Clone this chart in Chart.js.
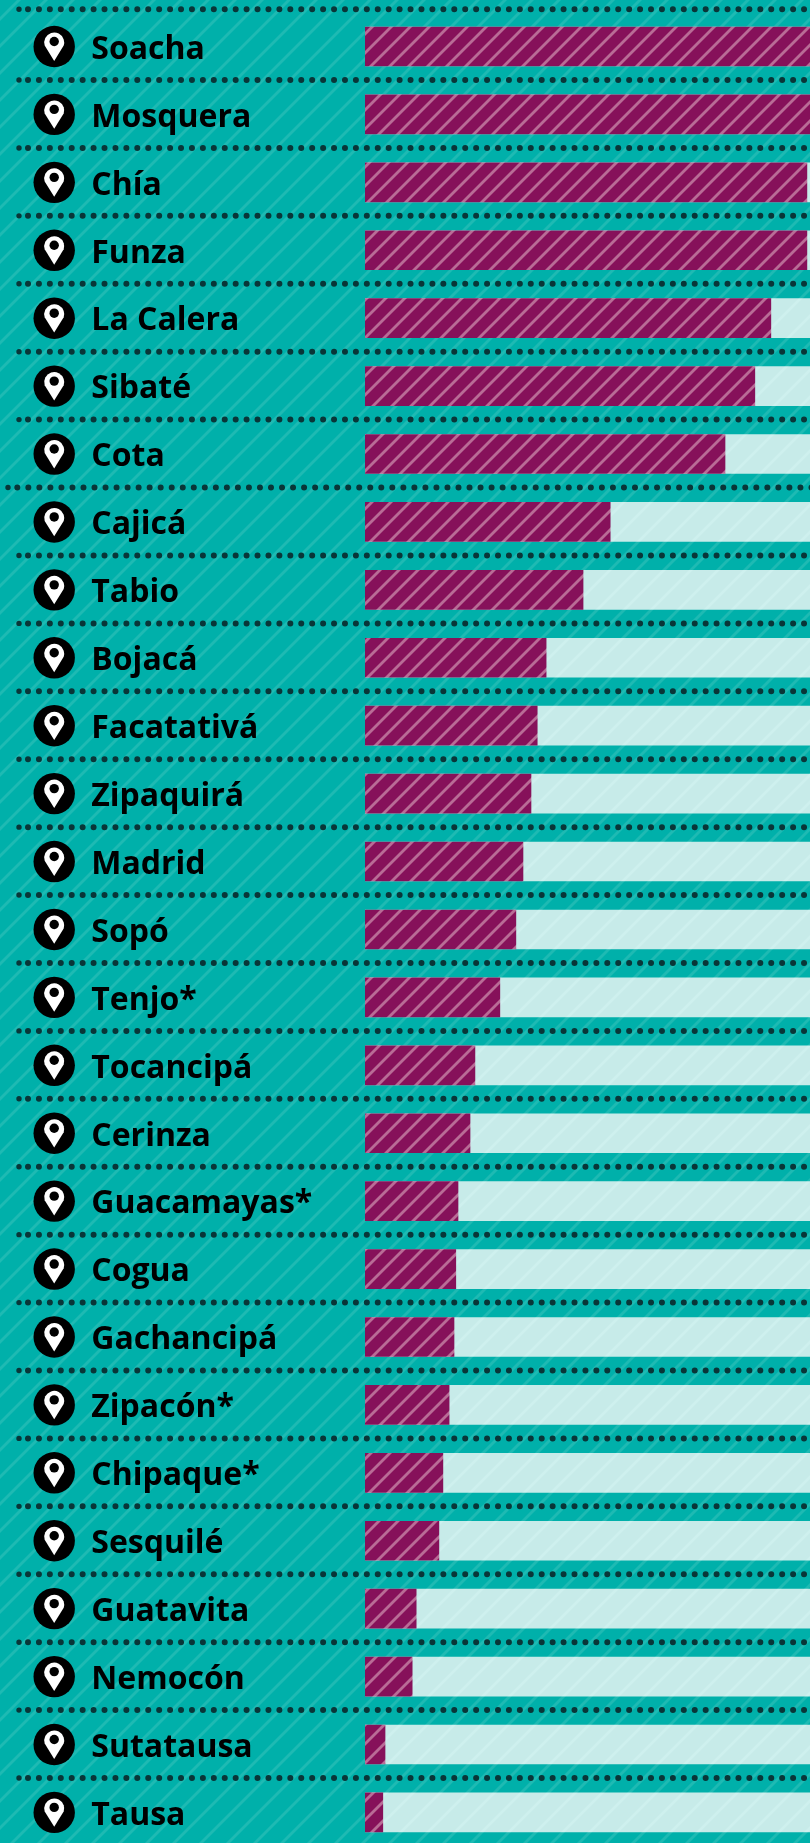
<!DOCTYPE html>
<html>
<head>
<meta charset="utf-8">
<style>
  html, body { margin: 0; padding: 0; background: #00b0aa; overflow: hidden; }
  #wrap { width: 810px; height: 1843px; overflow: hidden; }
  canvas { display: block; }
</style>
</head>
<body>
<div id="wrap"><canvas id="myChart" width="810" height="1850"></canvas></div>
<script src="https://cdn.jsdelivr.net/npm/chart.js@4"></script>
<script>
var municipios = ['Soacha', 'Mosquera', 'Chía', 'Funza', 'La Calera', 'Sibaté', 'Cota', 'Cajicá', 'Tabio',
  'Bojacá', 'Facatativá', 'Zipaquirá', 'Madrid', 'Sopó', 'Tenjo*', 'Tocancipá', 'Cerinza', 'Guacamayas*',
  'Cogua', 'Gachancipá', 'Zipacón*', 'Chipaque*', 'Sesquilé', 'Guatavita', 'Nemocón', 'Sutatausa', 'Tausa'];
var valores = [100, 100, 99.3, 99.3, 91.2, 87.6, 80.9, 55.1, 49.0, 40.7, 38.7, 37.3, 35.5, 33.9, 30.3,
  24.7, 23.6, 20.9, 20.4, 20.0, 18.9, 17.5, 16.6, 11.5, 10.6, 4.5, 4.0];
var total = [100, 100, 100, 100, 100, 100, 100, 100, 100, 100, 100, 100, 100, 100, 100, 100, 100, 100,
  100, 100, 100, 100, 100, 100, 100, 100, 100];

// 45 degree hatch tile, lines where x + y = phase (mod period)
function hatch(base, line, w, period, phase) {
  var c = document.createElement('canvas');
  c.width = period;
  c.height = period;
  var g = c.getContext('2d');
  g.fillStyle = base;
  g.fillRect(0, 0, period, period);
  g.strokeStyle = line;
  g.lineWidth = w;
  for (var k = -1; k < 3; k++) {
    var n = phase + k * period;
    g.beginPath();
    g.moveTo(n + 3, -3);
    g.lineTo(n - period - 3, period + 3);
    g.stroke();
  }
  return g.createPattern(c, 'repeat');
}

function drawPin(ctx, x, y) {
  ctx.fillStyle = '#000';
  ctx.beginPath();
  ctx.arc(x, y, 20.7, 0, Math.PI * 2);
  ctx.fill();
  ctx.fillStyle = '#fff';
  ctx.beginPath();
  ctx.arc(x, y - 4, 10, Math.PI * 0.9, Math.PI * 0.1);
  ctx.lineTo(x, y + 14.4);
  ctx.closePath();
  ctx.fill();
  ctx.fillStyle = '#000';
  ctx.beginPath();
  ctx.arc(x, y - 5, 4.7, 0, Math.PI * 2);
  ctx.fill();
}

var fondo = hatch('#00b0aa', '#1ebab3', 2.8, 27, 19);

var decoracion = {
  id: 'decoracion',
  beforeDraw: function (chart) {
    var ctx = chart.ctx;
    ctx.save();
    ctx.fillStyle = fondo;
    ctx.fillRect(0, 0, chart.width, chart.height);
    ctx.restore();
  },
  afterDraw: function (chart) {
    var ctx = chart.ctx, y = chart.scales.y;
    ctx.save();
    municipios.forEach(function (m, i) {
      var cy = y.getPixelForValue(i);
      var ly = cy - (i === 0 ? 37.2 : 34.4);
      // the line above Cajicá runs a bit further left and wider
      var first = i === 7 ? 17.3 : 28;
      var step = i === 7 ? 11.03 : 10.93;
      ctx.fillStyle = '#093638';
      ctx.beginPath();
      ctx.arc(i === 7 ? 8 : 19, ly, 2.7, 0, Math.PI * 2);
      for (var x = first; x < 815; x += step) {
        ctx.moveTo(x + 3, ly);
        ctx.arc(x, ly, 3, 0, Math.PI * 2);
      }
      ctx.fill();
      drawPin(ctx, 54.2, cy);
      // axis labels sit a little low in the original, so they are placed here
      ctx.fillStyle = '#000';
      ctx.font = 'bold 32px "Open Sans"';
      ctx.textAlign = 'left';
      ctx.textBaseline = 'alphabetic';
      ctx.fillText(m, 91.3, cy + 12.3);
    });
    ctx.restore();
  }
};

var ctx = document.getElementById('myChart').getContext('2d');
var myChart = new Chart(ctx, {
  type: 'bar',
  data: {
    labels: municipios,
    datasets: [{
      label: 'valor',
      data: valores,
      backgroundColor: hatch('#86115a', '#b96c96', 2.8, 19, 0),
      barThickness: 39,
      grouped: false,
      order: 1
    }, {
      label: 'total',
      data: total,
      backgroundColor: hatch('#c7ebe9', '#cef0ee', 2.8, 27, 19),
      barThickness: 39,
      grouped: false,
      order: 2
    }]
  },
  options: {
    indexAxis: 'y',
    responsive: false,
    animation: false,
    layout: { padding: { left: 92, top: 12.54, bottom: 3.62, right: 0 } },
    plugins: { legend: { display: false }, tooltip: { enabled: false } },
    scales: {
      x: { display: false, min: 0, max: 100 },
      y: {
        grid: { display: false },
        border: { display: false },
        ticks: { display: false },
        afterFit: function (scale) {
          scale.width = 273;
          scale.paddingTop = 0;
          scale.paddingBottom = 0;
        }
      }
    }
  },
  plugins: [decoracion]
});
</script>
</body>
</html>
